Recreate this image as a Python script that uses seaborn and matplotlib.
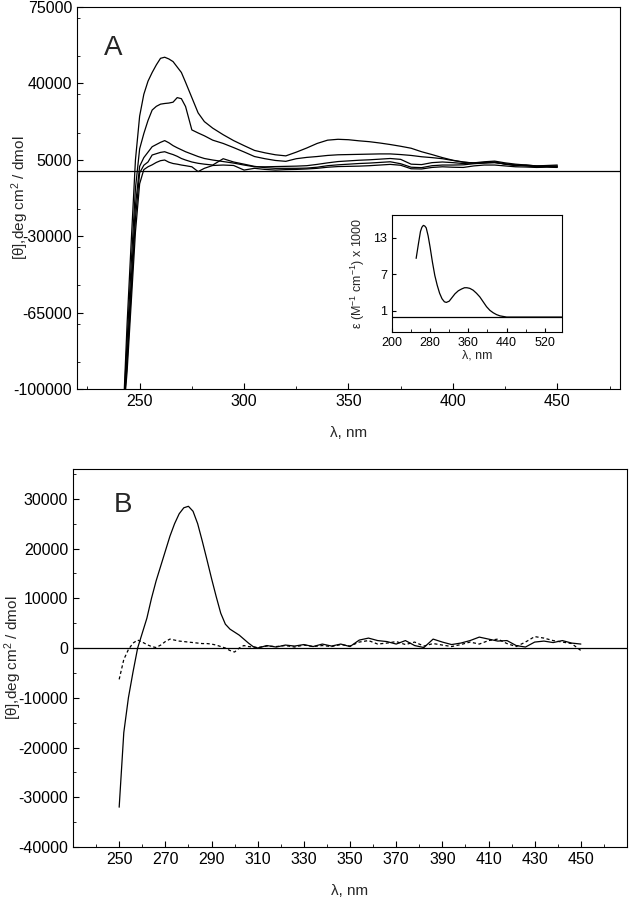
import numpy as np
import pandas as pd
import seaborn as sns
import matplotlib.pyplot as plt
from matplotlib.ticker import MultipleLocator

# ---- panel A: CD spectra (5 traces) ----
wl_a = [242, 244, 246, 248, 250, 252, 254, 256, 258, 260, 262, 264, 266, 268, 270, 272,
        275, 278, 281, 285, 290, 295, 300, 305, 310, 315, 320, 325, 330, 335, 340, 345,
        350, 355, 360, 365, 370, 375, 380, 385, 390, 395, 400, 405, 410, 415, 420, 425,
        430, 435, 440, 445, 450]
cd_a1 = [-115000, -70000, -32000, 5000, 25000, 35000, 41000, 45000, 48500, 51500, 52000, 51200,
         50000, 47500, 45000, 40500, 33500, 26500, 22500, 19500, 16500, 13800, 11500, 9300,
         8200, 7300, 6800, 8500, 10400, 12500, 14000, 14400, 14200, 13700, 13300, 12700, 12000,
         11200, 10300, 8700, 7400, 6000, 4800, 4000, 3500, 3700, 4000, 3000, 2300, 2600, 2200,
         2000, 1800]
cd_a2 = [-115000, -78000, -42000, -8000, 10000, 17000, 23000, 27800, 29500, 30500, 30800, 31000,
         31400, 33500, 33000, 29400, 18700, 17300, 16000, 14000, 12500, 10600, 8600, 6500,
         5500, 4700, 4300, 5500, 6100, 6500, 7000, 7300, 7400, 7500, 7600, 7700, 7700,
         7400, 7000, 6400, 6000, 5500, 4700, 3900, 3500, 3700, 3800, 3100, 2600, 2400, 2000,
         2100, 2000]
cd_a3 = [-115000, -85000, -50000, -16000, 2000, 6000, 8500, 11000, 12000, 13000, 13800, 12800,
         11500, 10500, 9600, 8700, 7600, 6500, 5600, 4900, 4200, 3500, 2600, 1800,
         1800, 1900, 2000, 2100, 2300, 2900, 3600, 4200, 4500, 4800, 5000, 5300, 5600,
         5200, 3000, 2800, 3700, 4000, 3700, 3300, 3600, 4100, 4400, 3600, 3000, 2600, 2200,
         2400, 2600]
cd_a4 = [-115000, -88000, -55000, -22000, -1000, 2500, 4000, 7200, 7800, 8400, 8700, 8000,
         7400, 6600, 5600, 4900, 4000, 3400, 3000, 2600, 5500, 4000, 3000, 2000,
         1400, 1100, 1100, 1100, 1200, 1600, 2300, 2700, 3000, 3300, 3500, 3800, 4100,
         3200, 1600, 1400, 2300, 2600, 2600, 2700, 3200, 3500, 3700, 3100, 2600, 2200, 1800,
         2000, 2200]
cd_a5 = [-115000, -92000, -60000, -28000, -6000, 500, 1800, 2700, 3800, 4600, 4900, 3900,
         3300, 3000, 2600, 2300, 1800, -400, 1100, 2400, 2600, 2400, 300, 1100,
         600, 300, 500, 600, 800, 1100, 1600, 1900, 2000, 2100, 2300, 2600, 2900,
         2500, 900, 800, 1500, 1800, 1600, 1500, 2200, 2600, 2600, 2200, 1800, 1700, 1500,
         1600, 1500]

# ---- inset: absorption spectrum ----
wl_abs = [251, 256, 260, 263, 266, 269, 272, 276, 280, 285, 290, 295, 300, 305, 310, 314,
          320, 325, 332, 339, 346, 352, 357, 363, 370, 377, 384, 391, 398, 405, 412, 419,
          426, 433, 440, 480, 520, 555]
eps_abs = [9.6, 12.1, 14.0, 14.7, 15.0, 14.9, 14.6, 13.3, 11.5, 9.0, 6.8, 5.2, 3.9, 3.0, 2.5, 2.4,
           2.6, 3.1, 3.8, 4.3, 4.6, 4.8, 4.8, 4.7, 4.4, 3.9, 3.3, 2.5, 1.7, 1.1, 0.7, 0.4,
           0.2, 0.1, 0.0, 0.0, 0.0, 0.0]

# ---- panel B: two CD traces ----
wl_b = [250, 252, 254, 256, 258, 260, 262, 264, 266, 268, 270, 272, 274, 276, 278, 280, 282,
        284, 286, 288, 290, 292, 294, 296, 298, 300, 302, 304, 306, 308, 310, 314, 318, 322,
        326, 330, 334, 338, 342, 346, 350, 354, 358, 362, 366, 370, 374, 378, 382, 386, 390,
        394, 398, 402, 406, 410, 414, 418, 422, 426, 430, 434, 438, 442, 446, 450]
cd_b_solid = [-32000, -17000, -10000, -4800, 0, 3000, 6000, 10000, 13500, 16500, 19500, 22500,
              25000, 27000, 28200, 28500, 27500, 25000, 21500, 17800, 14000, 10400, 7000, 4800,
              3800, 3200, 2600, 1800, 1000, 300, 0, 500, 200, 600, 400, 700, 300, 800, 400, 800,
              300, 1600, 2000, 1500, 1300, 800, 1500, 500, 100, 1800, 1200, 700, 1000, 1500,
              2200, 1800, 1400, 1500, 500, 200, 1200, 1400, 1100, 1500, 1000, 800]
cd_b_dash = [-6300, -2300, -300, 1000, 1600, 1200, 700, 300, 100, 600, 1300, 1800, 1600, 1400,
             1300, 1200, 1100, 1000, 900, 900, 800, 600, 300, 0, -500, -800, 0, 500, 300, 200,
             100, 400, 300, 500, 200, 600, 300, 500, 300, 700, 400, 1200, 1500, 800, 1000, 1300,
             700, 1200, 400, 900, 600, 300, 700, 1200, 800, 1500, 1800, 900, 300, 1200, 2300,
             2000, 1500, 1200, 900, -500]

sns.set_style("ticks")
plt.rcParams['font.family'] = ['Liberation Sans', 'DejaVu Sans']
plt.rcParams['mathtext.fontset'] = 'custom'
plt.rcParams['mathtext.rm'] = 'Liberation Sans'
plt.rcParams['mathtext.it'] = 'Liberation Sans'
plt.rcParams['axes.linewidth'] = 0.8
plt.rcParams['axes.unicode_minus'] = False

fig = plt.figure(figsize=(6.31, 9.0), dpi=100)
axA = fig.add_axes([0.122, 0.5678, 0.8605, 0.4244])
axB = fig.add_axes([0.1157, 0.0589, 0.878, 0.42])
axI = fig.add_axes([0.6208, 0.6314, 0.2694, 0.1297])


def style_axis(ax, size):
    ax.tick_params(which='both', direction='in', top=False, right=False, labelsize=size,
                   colors='black')
    ax.tick_params(which='major', length=4.5, width=0.8)
    ax.tick_params(which='minor', length=2.5, width=0.6)
    for s in ax.spines.values():
        s.set_visible(True)
        s.set_color('black')


# panel A
for vals in [cd_a1, cd_a2, cd_a3, cd_a4, cd_a5]:
    sns.lineplot(x=wl_a, y=vals, ax=axA, color='black', lw=0.9, estimator=None, sort=False)
axA.axhline(0, color='black', lw=0.9)
axA.set_xlim(220, 480)
axA.set_ylim(-100000, 75000)
axA.set_yticks([-100000, -65000, -30000, 5000, 40000, 75000])
axA.yaxis.set_minor_locator(MultipleLocator(17500))
axA.xaxis.set_major_locator(MultipleLocator(50))
axA.xaxis.set_minor_locator(MultipleLocator(25))
style_axis(axA, 11.5)
axA.set_xlim(220, 480)
axA.set_xlabel('λ, nm', fontsize=11, labelpad=12)
axA.set_ylabel('[θ],deg cm$^2$ / dmol', fontsize=11)
axA.yaxis.set_label_coords(-0.085, 0.5)
axA.text(0.066, 0.893, 'A', transform=axA.transAxes, fontsize=20, ha='center', va='center')

# inset
sns.lineplot(x=wl_abs, y=eps_abs, ax=axI, color='black', lw=0.9, estimator=None, sort=False)
axI.axhline(0, color='black', lw=0.9)
axI.set_xlim(200, 555)
axI.set_ylim(-2.4, 16.7)
axI.set_xticks([200, 280, 360, 440, 520])
axI.set_yticks([1, 7, 13])
axI.xaxis.set_minor_locator(MultipleLocator(40))
style_axis(axI, 9)
axI.tick_params(which='major', length=3)
axI.set_xlabel('λ, nm', fontsize=9, labelpad=1)
axI.set_ylabel('ε (M$^{-1}$ cm$^{-1}$) x 1000', fontsize=9, labelpad=4)

# panel B
sns.lineplot(x=wl_b, y=cd_b_solid, ax=axB, color='black', lw=0.9, estimator=None, sort=False)
sns.lineplot(x=wl_b, y=cd_b_dash, ax=axB, color='black', lw=0.9, estimator=None, sort=False,
             linestyle=(0, (2.5, 2)))
axB.axhline(0, color='black', lw=0.9)
axB.set_xlim(230, 470)
axB.set_ylim(-40000, 36000)
axB.set_yticks(np.arange(-40000, 30001, 10000))
axB.yaxis.set_minor_locator(MultipleLocator(5000))
axB.set_xticks(np.arange(250, 451, 20))
axB.xaxis.set_minor_locator(MultipleLocator(10))
style_axis(axB, 11.5)
axB.set_xlim(230, 470)
axB.set_xlabel('λ, nm', fontsize=11, labelpad=12)
axB.set_ylabel('[θ],deg cm$^2$ / dmol', fontsize=11)
axB.yaxis.set_label_coords(-0.088, 0.5)
axB.text(0.091, 0.905, 'B', transform=axB.transAxes, fontsize=20, ha='center', va='center')

fig.savefig('out.png', dpi=100)
